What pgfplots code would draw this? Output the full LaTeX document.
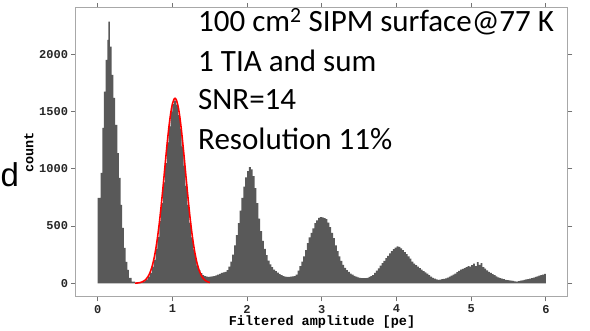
\documentclass[border=0pt]{standalone}
\usepackage{pgfplots}
\pgfplotsset{compat=1.18}
\usepackage{fontspec}
\setmainfont{Liberation Sans}
\newfontfamily\monob{Liberation Mono}
\newfontfamily\carlito{Carlito}
\definecolor{histgray}{HTML}{595959}
\definecolor{framegray}{HTML}{A8A8A8}
\begin{document}
\begin{tikzpicture}[x=1pt,y=1pt]
\useasboundingbox (0,0) rectangle (590,331);
\begin{axis}[
  at={(76pt,34pt)}, anchor=south west,
  width=492pt, height=289pt, scale only axis,
  xmin=-0.29, xmax=6.295, ymin=-120, ymax=2404,
  xtick={0,1,2,3,4,5,6}, ytick={0,500,1000,1500,2000},
  tick align=outside, major tick length=4.5pt,
  axis line style={framegray, line width=1pt},
  tick style={black!55, line width=1pt},
  /pgf/number format/assume math mode=true,
  /pgf/number format/1000 sep={},
  scaled y ticks=false,
  tick label style={font=\monob\bfseries\fontsize{12}{14}\selectfont, text=black!85},
  xlabel={Filtered amplitude [pe]}, ylabel={count},
  label style={font=\monob\bfseries\fontsize{13.5}{15}\selectfont},
  xlabel style={at={(axis description cs:0.5,-0.0855)}, anchor=center},
  ylabel style={at={(axis description cs:-0.0955,0.5)}, anchor=center},
]
\addplot[const plot, fill=histgray, draw=none] coordinates {
(0,0) (0,745) (0.04,963) (0.062,1356) (0.084,1673) (0.107,1950) (0.129,2125) (0.142,2285) (0.165,2067)
(0.187,1820) (0.209,1620) (0.232,1383) (0.263,1137) (0.285,920) (0.308,684) (0.329,483) (0.352,308)
(0.375,186) (0.396,116) (0.419,46) (0.455,14)
(0.500,2) (0.525,1) (0.550,3) (0.575,5) (0.600,10) (0.625,20) (0.650,33) (0.675,57) (0.700,90)
(0.725,142) (0.750,205) (0.775,300) (0.800,405) (0.825,548) (0.850,700) (0.875,880) (0.900,1050)
(0.925,1230) (0.950,1370) (0.975,1500) (1.000,1565) (1.025,1595) (1.050,1560) (1.075,1470)
(1.100,1350) (1.125,1195) (1.150,1025) (1.175,850) (1.200,685) (1.225,530) (1.250,400) (1.275,295)
(1.300,215) (1.325,155) (1.350,115) (1.375,88) (1.400,72) (1.425,62) (1.450,58) (1.475,55)
(1.500,57) (1.525,60) (1.550,62) (1.575,68) (1.600,75) (1.625,82) (1.650,90) (1.675,95)
(1.700,100) (1.725,115) (1.750,145) (1.775,190) (1.800,250) (1.825,330) (1.850,420) (1.875,525)
(1.900,635) (1.925,745) (1.950,845) (1.975,925) (2.000,980) (2.025,1015) (2.050,995) (2.075,935)
(2.100,830) (2.125,700) (2.150,565) (2.175,455) (2.200,370) (2.225,300) (2.250,245) (2.275,198)
(2.300,165) (2.325,140) (2.350,120) (2.375,105) (2.400,92) (2.425,80) (2.450,70) (2.475,62)
(2.500,58) (2.525,56) (2.550,55) (2.575,57) (2.600,60)
(2.625,62) (2.650,75) (2.675,110) (2.700,150) (2.725,190) (2.750,235) (2.775,290) (2.800,350)
(2.825,400) (2.850,440) (2.875,480) (2.900,525) (2.925,550) (2.950,570) (2.975,578) (3.000,575)
(3.025,568) (3.050,560) (3.075,530) (3.100,490) (3.125,440) (3.150,395) (3.175,330) (3.200,280)
(3.225,235) (3.250,195) (3.275,160) (3.300,135) (3.325,115) (3.350,100) (3.375,85) (3.400,75)
(3.425,65) (3.450,58) (3.475,52) (3.500,48) (3.525,45) (3.550,44) (3.575,45) (3.600,48)
(3.625,55) (3.650,62)
(3.675,70) (3.700,90) (3.725,110) (3.750,130) (3.775,155) (3.800,175) (3.825,195) (3.850,220)
(3.875,240) (3.900,262) (3.925,280) (3.950,298) (3.975,312) (4.000,322) (4.025,318) (4.050,305)
(4.075,290) (4.100,272) (4.125,255) (4.150,235) (4.175,215) (4.200,190) (4.225,172) (4.250,158)
(4.275,145) (4.300,132) (4.325,118) (4.350,105) (4.375,95) (4.400,85) (4.425,72) (4.450,58)
(4.475,48) (4.500,40) (4.525,33) (4.550,30) (4.575,32) (4.600,35) (4.625,38)
(4.650,42) (4.675,50) (4.700,58) (4.725,66) (4.750,75) (4.775,85) (4.800,98) (4.825,108)
(4.850,118) (4.875,125) (4.900,132) (4.925,140) (4.950,150) (4.975,145) (5.000,158) (5.025,172)
(5.050,150) (5.075,185) (5.100,160) (5.125,175) (5.150,140) (5.175,128) (5.200,112) (5.225,100)
(5.250,90) (5.275,80) (5.300,70) (5.325,60) (5.350,52) (5.375,45) (5.400,40) (5.425,35)
(5.450,30) (5.475,28) (5.500,25) (5.525,22) (5.550,20) (5.575,16) (5.600,14) (5.625,18)
(5.650,22) (5.675,26) (5.700,30) (5.725,34) (5.750,36) (5.775,40) (5.800,45) (5.825,50)
(5.850,55) (5.875,60) (5.900,66) (5.925,72) (5.950,76) (5.975,82) (6.000,82) (6.000,0)
};
\addplot[red, line width=1.6pt, smooth] coordinates {
(0.500,1) (0.525,2) (0.550,4) (0.575,7) (0.600,13) (0.625,22) (0.650,37) (0.675,59) (0.700,92)
(0.725,139) (0.750,203) (0.775,288) (0.800,395) (0.825,524) (0.850,675) (0.875,840) (0.900,1014)
(0.925,1186) (0.950,1343) (0.975,1473) (1.000,1565) (1.025,1611) (1.035,1615) (1.050,1606)
(1.075,1550) (1.100,1450) (1.125,1313) (1.150,1153) (1.175,980) (1.200,807) (1.225,643)
(1.250,497) (1.275,372) (1.300,270) (1.325,189) (1.350,129) (1.375,85) (1.400,54) (1.425,33)
(1.450,20) (1.475,12) (1.500,6)
};
\end{axis}
\begin{scope}[every node/.style={anchor=base west, inner sep=0pt, font=\carlito\fontsize{31}{37}\selectfont}]
\node at (198,299.3) {100 cm\textsuperscript{2} SIPM surface@77 K};
\node at (198,259.3) {1 TIA and sum};
\node at (198,221) {SNR=14};
\node at (198,181) {Resolution 11\%};
\end{scope}
\node[anchor=base west, inner sep=0pt, font=\fontsize{33}{38}\selectfont] at (0.5,144) {d};
\end{tikzpicture}
\end{document}
